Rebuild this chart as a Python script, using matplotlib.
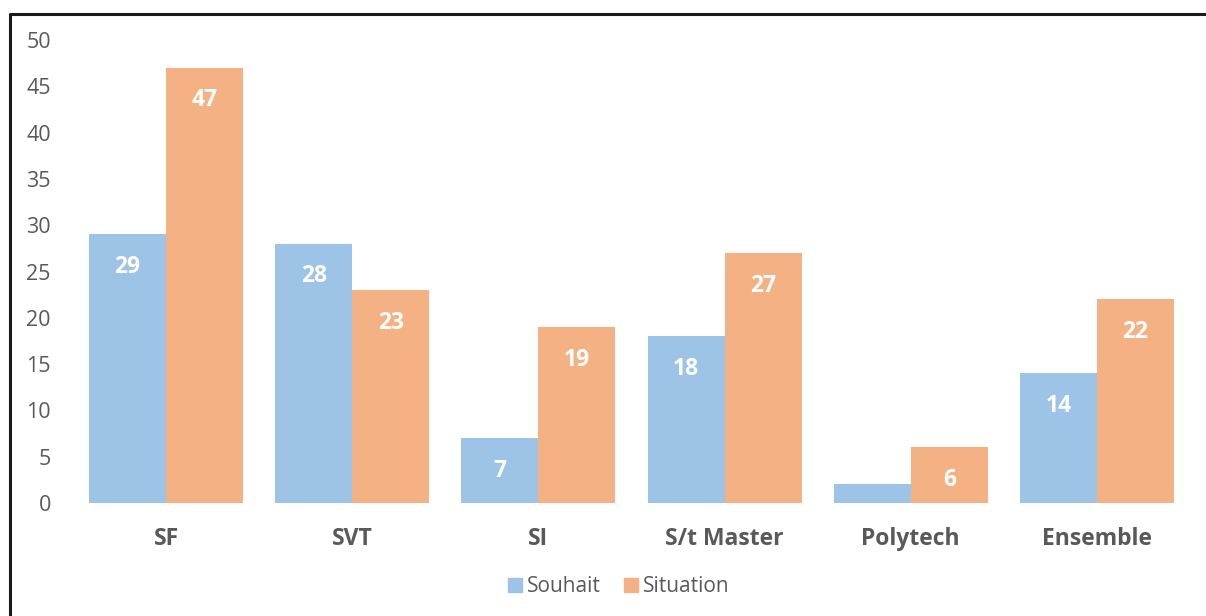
import matplotlib
matplotlib.use("Agg")
import matplotlib.pyplot as plt
from matplotlib.lines import Line2D
from matplotlib.patches import Patch
import numpy as np

categories = ["SF", "SVT", "SI", "S/t Master", "Polytech", "Ensemble"]
souhait = [29, 28, 7, 18, 2, 14]
situation = [47, 23, 19, 27, 6, 22]
yticks = [0, 5, 10, 15, 20, 25, 30, 35, 40, 45, 50]

blue = "#9DC3E6"
orange = "#F4B183"
txt = "#595959"
plt.rcParams['font.family'] = ['Open Sans', 'DejaVu Sans']

W, H = 1206, 616
fig = plt.figure(figsize=(W / 100, H / 100), dpi=100)
fig.patch.set_facecolor("white")
ax = fig.add_axes([73 / W, 1 - 503 / H, (1190 - 73) / W, (503 - 40) / H])
ax.set_facecolor("none")

x = np.arange(len(categories))
bw = 0.414
b1 = ax.bar(x - bw / 2, souhait, bw, color=blue, label="Souhait")
b2 = ax.bar(x + bw / 2, situation, bw, color=orange, label="Situation")

for bars, vals in ((b1, souhait), (b2, situation)):
    for r, v in zip(bars, vals):
        off = -23.5 if v >= 4 else 19
        ax.annotate(str(v), (r.get_x() + r.get_width() / 2, v),
                    xytext=(0, off), textcoords="offset points",
                    ha="center", va="center", color="white",
                    fontsize=16.5, fontweight="bold")

ax.set_xlim(-0.5, len(categories) - 0.5)
ax.set_ylim(0, 50)
ax.set_yticks(yticks)
ax.set_yticklabels([str(t) for t in yticks], fontsize=15.5, color=txt)
ax.set_xticks(x)
ax.set_xticklabels(categories, fontsize=16.5, fontweight="bold", color=txt)
ax.tick_params(axis="y", length=0, pad=16)
ax.tick_params(axis="x", length=0, pad=17)
for s in ax.spines.values():
    s.set_visible(False)

handles = [Patch(color=blue), Patch(color=orange)]
fig.legend(handles, ["Souhait", "Situation"], loc="center",
           bbox_to_anchor=(619 / W, 1 - 587 / H), ncol=2, frameon=False,
           fontsize=15, handlelength=0.68, handleheight=0.68,
           handletextpad=0.24, columnspacing=1.1, labelcolor=txt)

# outer frame (left and top edges visible)
fig.add_artist(Line2D([9.5 / W, 9.5 / W, 1.0], [0.0, 1 - 13.5 / H, 1 - 13.5 / H],
                      transform=fig.transFigure, color="#1a1a1a", lw=2.2))

fig.savefig("out.png", dpi=100)
